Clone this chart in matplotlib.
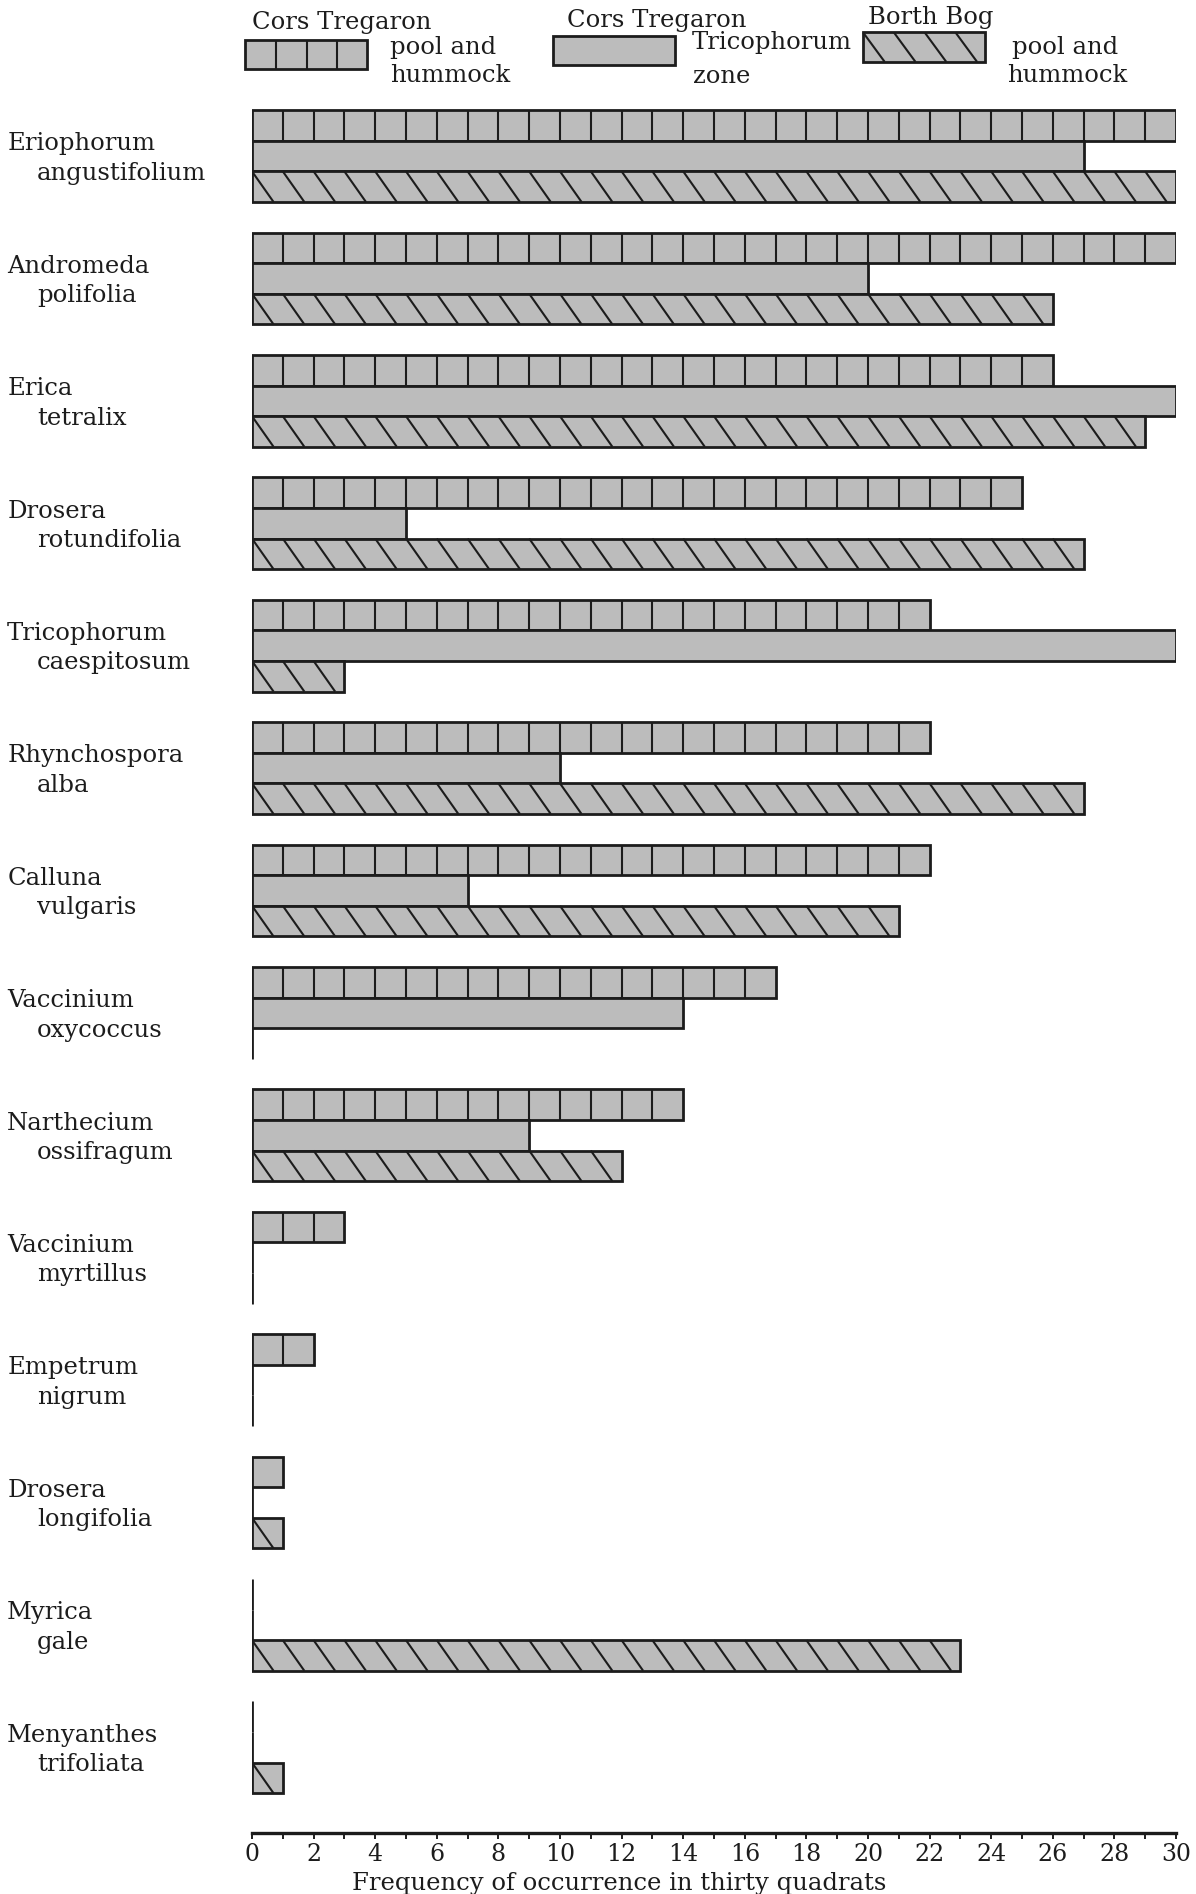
import matplotlib
matplotlib.use('Agg')
import matplotlib.pyplot as plt
from matplotlib.collections import LineCollection
from matplotlib.patches import Rectangle
from matplotlib.transforms import blended_transform_factory

# species (two-line labels) and frequency of occurrence in thirty quadrats
genus = ['Eriophorum', 'Andromeda', 'Erica', 'Drosera', 'Tricophorum',
         'Rhynchospora', 'Calluna', 'Vaccinium', 'Narthecium', 'Vaccinium',
         'Empetrum', 'Drosera', 'Myrica', 'Menyanthes']
species = ['angustifolium', 'polifolia', 'tetralix', 'rotundifolia', 'caespitosum',
           'alba', 'vulgaris', 'oxycoccus', 'ossifragum', 'myrtillus',
           'nigrum', 'longifolia', 'gale', 'trifoliata']
tregaron_pool = [30, 30, 26, 25, 22, 22, 22, 17, 14, 3, 2, 1, 0, 0]
tregaron_trico = [27, 20, 30, 5, 30, 10, 7, 14, 9, 0, 0, 0, 0, 0]
borth_pool = [30, 26, 29, 27, 3, 27, 21, 0, 12, 0, 0, 1, 23, 1]
xticks = list(range(0, 31, 2))

FONT = 'DejaVu Serif'
INK = '#1c1c1c'
FILL = '#bcbcbc'
BAR_H = 0.25
EDGE_LW = 2.0
HATCH_LW = 1.5
SLANT = 0.7

fig = plt.figure(figsize=(11.96, 18.94), dpi=100)
ax = fig.add_axes([0.2107, 0.03221, 0.7726, 0.9177])
ax.set_xlim(0, 30)
ax.set_ylim(13.70, -0.5)


def boxes(xs, ys):
    # vertical dividers every unit (first series)
    segs = []
    for v, y in zip(xs, ys):
        for k in range(1, int(v)):
            segs.append([(k, y - BAR_H / 2), (k, y + BAR_H / 2)])
    return segs


def diagonals(xs, ys):
    # back-slash hatching one per unit (third series)
    segs = []
    for v, y in zip(xs, ys):
        for k in range(0, int(v)):
            segs.append([(k, y - BAR_H / 2), (k + SLANT, y + BAR_H / 2)])
    return segs


pos = list(range(len(genus)))
y1 = [p - BAR_H for p in pos]
y2 = pos
y3 = [p + BAR_H for p in pos]

for vals, ys in [(tregaron_pool, y1), (tregaron_trico, y2), (borth_pool, y3)]:
    ax.barh(ys, vals, height=BAR_H, left=0, color=FILL, edgecolor=INK,
            linewidth=EDGE_LW, zorder=2)
ax.add_collection(LineCollection(boxes(tregaron_pool, y1), colors=INK,
                                 linewidths=HATCH_LW, zorder=3))
ax.add_collection(LineCollection(diagonals(borth_pool, y3), colors=INK,
                                 linewidths=HATCH_LW, zorder=3))

# species labels
tr = blended_transform_factory(fig.transFigure, ax.transData)
for p, g, s in zip(pos, genus, species):
    ax.text(0.006, p - 0.10, g, transform=tr, fontsize=17.5, family=FONT,
            color=INK, va='center', ha='left')
    ax.text(0.031, p + 0.14, s, transform=tr, fontsize=17.5, family=FONT,
            color=INK, va='center', ha='left')

# legend drawn by hand above the bars
leg_w, leg_h = 3.96, 0.24
for x0, yc, kind in [(-0.23, -0.83, 'box'), (9.77, -0.865, 'plain'), (19.84, -0.89, 'diag')]:
    ax.add_patch(Rectangle((x0, yc - leg_h / 2), leg_w, leg_h, facecolor=FILL,
                           edgecolor=INK, linewidth=EDGE_LW, clip_on=False))
    if kind == 'box':
        segs = [[(x0 + k, yc - leg_h / 2), (x0 + k, yc + leg_h / 2)]
                for k in range(1, 4)]
    elif kind == 'diag':
        segs = [[(x0 + k, yc - leg_h / 2), (x0 + k + SLANT, yc + leg_h / 2)]
                for k in range(0, 4)]
    else:
        segs = []
    lc = LineCollection(segs, colors=INK, linewidths=HATCH_LW)
    lc.set_clip_on(False)
    ax.add_collection(lc)

legend_text = [
    (0.0, -1.095, 'Cors Tregaron'), (4.48, -0.89, 'pool and'), (4.48, -0.66, 'hummock'),
    (10.23, -1.11, 'Cors Tregaron'), (14.29, -0.93, 'Tricophorum'), (14.32, -0.65, 'zone'),
    (20.0, -1.13, 'Borth Bog'), (24.68, -0.89, 'pool and'), (24.51, -0.66, 'hummock'),
]
for x, y, t in legend_text:
    ax.text(x, y, t, fontsize=17.5, family=FONT, color=INK, va='center',
            ha='left', clip_on=False)

# axes styling: only the bottom axis remains
for side in ['top', 'left', 'right']:
    ax.spines[side].set_visible(False)
ax.spines['bottom'].set_linewidth(2.4)
ax.spines['bottom'].set_color(INK)
ax.set_yticks([])
ax.set_xticks(xticks)
ax.set_xticks(range(0, 31), minor=True)
ax.tick_params(axis='x', which='both', direction='out', length=4, width=1.4,
               color=INK)
ax.tick_params(axis='x', which='major', pad=3, labelsize=17, labelcolor=INK)
for lab in ax.get_xticklabels():
    lab.set_family(FONT)

fig.text(0.5176, 0.0058, 'Frequency of occurrence in thirty quadrats',
         family=FONT, fontsize=17.5, color=INK, ha='center', va='center')

fig.savefig('out.png', dpi=100)
